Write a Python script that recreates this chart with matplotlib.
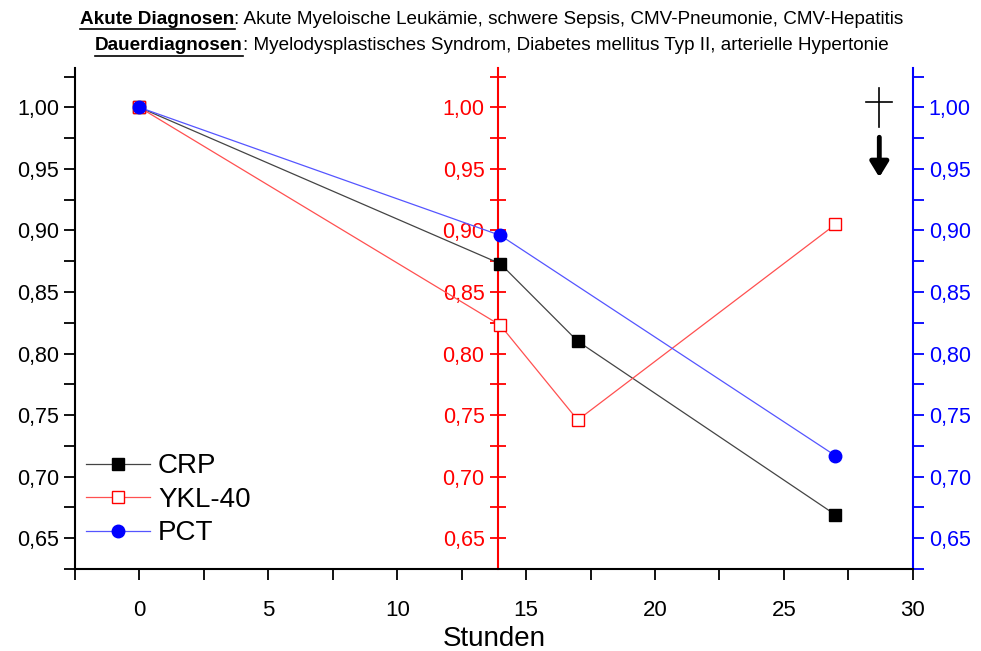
import matplotlib
matplotlib.use("Agg")
from matplotlib import pyplot as plt
from matplotlib.ticker import MultipleLocator, FuncFormatter

plt.rcParams['font.family'] = ['Liberation Sans', 'DejaVu Sans']

# values (relative values)
crp_x = [0, 14, 17, 27]
crp_y = [1.0, 0.873, 0.810, 0.669]
ykl_x = [0, 14, 17, 27]
ykl_y = [1.0, 0.823, 0.746, 0.905]
pct_x = [0, 14, 27]
pct_y = [1.0, 0.896, 0.717]

red_axis_at = 13.9
ylim = (0.625, 1.032)

comma = FuncFormatter(lambda v, p: "{:.2f}".format(v).replace('.', ','))

fig = plt.figure(figsize=(9.81, 6.51), dpi=100)
ax = fig.add_axes([0.0765, 0.126, 0.854, 0.7695])

ax.plot(crp_x, crp_y, color='#444444', lw=0.9, marker='s', ms=8.5,
        mfc='black', mec='black', label='CRP', zorder=3)
ax.plot(ykl_x, ykl_y, color='#ff5050', lw=0.9, marker='s', ms=8.5,
        mfc='white', mec='red', label='YKL-40', zorder=3)
ax.plot(pct_x, pct_y, color='#5555ff', lw=0.9, marker='o', ms=9,
        mfc='blue', mec='blue', label='PCT', zorder=4)

ax.set_xlim(-2.5, 30)
ax.set_ylim(*ylim)
ax.xaxis.set_major_locator(MultipleLocator(5))
ax.xaxis.set_minor_locator(MultipleLocator(2.5))
ax.yaxis.set_major_locator(MultipleLocator(0.05))
ax.yaxis.set_minor_locator(MultipleLocator(0.025))
ax.yaxis.set_major_formatter(comma)
ax.tick_params(which='both', direction='out', length=8, width=1.3, labelsize=15.5)
ax.tick_params(axis='x', pad=14, labelsize=16)
ax.spines['top'].set_visible(False)
ax.spines['right'].set_visible(False)
ax.spines['left'].set_linewidth(1.5)
ax.spines['bottom'].set_linewidth(1.5)
ax.set_xlabel('Stunden', fontsize=20, va='center')
ax.xaxis.set_label_coords(0.5, -0.14)

# red axis inside the plot
axr = ax.twinx()
axr.set_ylim(*ylim)
axr.spines['right'].set_visible(False)
axr.spines['top'].set_visible(False)
axr.spines['bottom'].set_visible(False)
axr.spines['left'].set_position(('data', red_axis_at))
axr.spines['left'].set_color('red')
axr.spines['left'].set_linewidth(1.5)
axr.yaxis.set_ticks_position('left')
axr.yaxis.set_label_position('left')
axr.yaxis.set_major_locator(MultipleLocator(0.05))
axr.yaxis.set_minor_locator(MultipleLocator(0.025))
axr.yaxis.set_major_formatter(comma)
axr.tick_params(which='both', direction='inout', length=12, width=1.3,
                color='red', labelcolor='red', labelsize=15.5)

# blue axis on the right
axb = ax.twinx()
axb.set_ylim(*ylim)
for s in ['left', 'top', 'bottom']:
    axb.spines[s].set_visible(False)
axb.spines['right'].set_color('blue')
axb.spines['right'].set_linewidth(1.5)
axb.yaxis.set_major_locator(MultipleLocator(0.05))
axb.yaxis.set_minor_locator(MultipleLocator(0.025))
axb.yaxis.set_major_formatter(comma)
axb.tick_params(which='both', direction='out', length=8, width=1.3,
                color='blue', labelcolor='blue', labelsize=15.5)

# keep data on top
ax.set_zorder(3)
ax.patch.set_visible(False)

leg = ax.legend(loc='lower left', bbox_to_anchor=(-0.007, 0.012), frameon=False,
                fontsize=20, handlelength=2.3, handletextpad=0.3,
                labelspacing=0.27, borderaxespad=0.2)

# death marker (cross) and arrow
ax.plot([28.7, 28.7], [0.984, 1.016], color='black', lw=1.2, clip_on=False)
ax.plot([28.2, 29.2], [1.004, 1.004], color='black', lw=1.2, clip_on=False)
ax.annotate('', xy=(28.7, 0.941), xytext=(28.7, 0.978),
            arrowprops=dict(arrowstyle='-|>,head_length=0.9,head_width=0.55',
                            color='black', lw=3.5))

# header with underlined bold parts
lines = [("Akute Diagnosen", ": Akute Myeloische Leukämie, schwere Sepsis, CMV-Pneumonie, CMV-Hepatitis"),
         ("Dauerdiagnosen", ": Myelodysplastisches Syndrom, Diabetes mellitus Typ II, arterielle Hypertonie")]
fig.canvas.draw()
r = fig.canvas.get_renderer()
for i, (bold, rest) in enumerate(lines):
    yfig = 1 - (19 + 27 * i) / 651
    tb = fig.text(0, yfig, bold, fontsize=13.6, fontweight='bold', va='center')
    tr = fig.text(0, yfig, rest, fontsize=13.6, va='center')
    eb = tb.get_window_extent(r)
    er = tr.get_window_extent(r)
    total = eb.width + er.width
    x0 = 492 - total / 2
    tb.set_x(x0 / 981)
    tr.set_x((x0 + eb.width) / 981)
    uy = (eb.y0 - 1) / 651
    fig.add_artist(plt.Line2D([x0 / 981, (x0 + eb.width) / 981], [uy, uy],
                              transform=fig.transFigure, color='black', lw=1.2))

fig.savefig('out.png', dpi=100)
